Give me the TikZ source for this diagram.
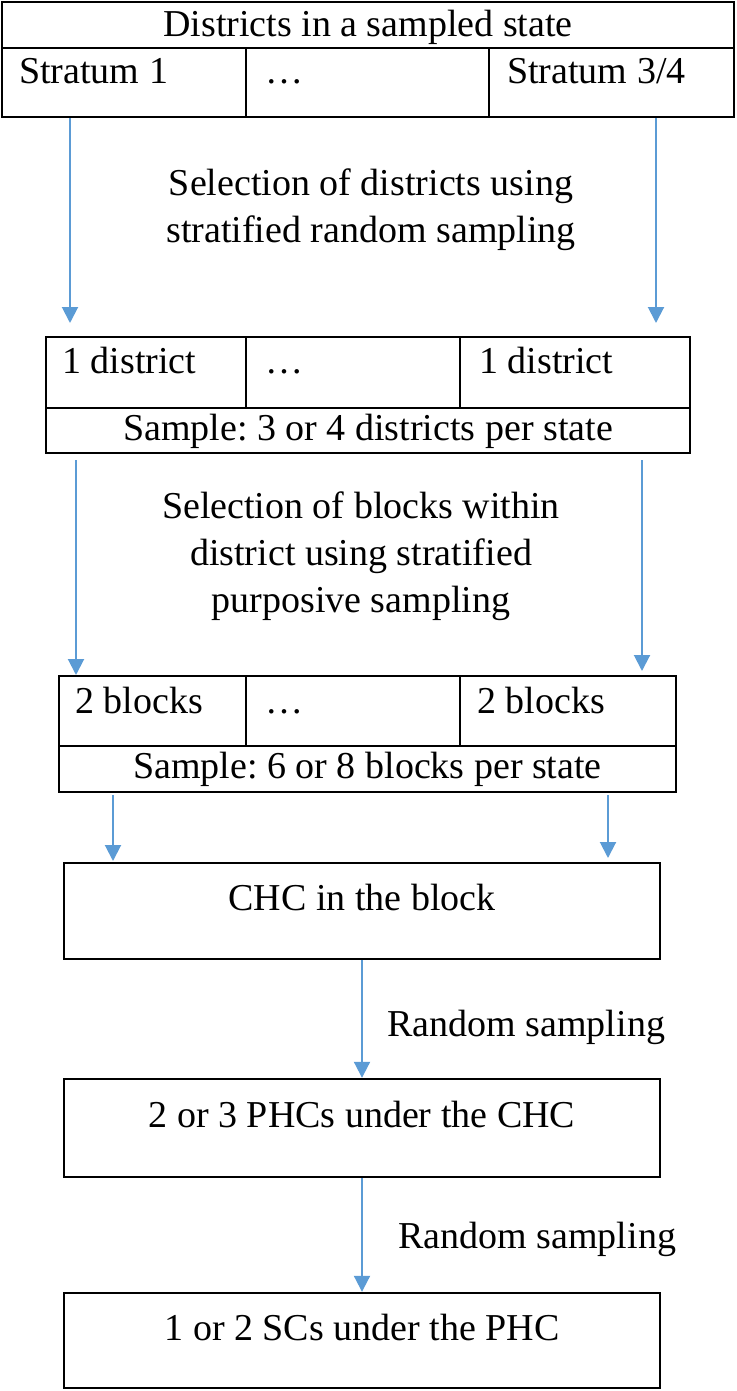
\documentclass[tikz,border=0pt]{standalone}
\usepackage{fontspec}
\setmainfont{Liberation Serif}
\frenchspacing
\usetikzlibrary{arrows.meta, fit}
\definecolor{flowblue}{RGB}{91,155,213}

\begin{document}
\begin{tikzpicture}[x = 0.5pt, y = -0.5pt,
    cell/.style = {draw, line width = 1.2pt, inner sep = 0pt},
    txt/.style = {inner sep = 0pt, font = \fontsize{19}{23.5}\selectfont},
    flow/.style = {draw = flowblue, line width = 1pt, -{Triangle[width = 8pt, length = 8pt]}}]
  \useasboundingbox (0,0) rectangle (736,1391);

  \node[cell, fit = {(2,2) (734,48)}] (hdr) {};
  \node[cell, fit = {(2,48) (246,117)}] (s1) {};
  \node[cell, fit = {(246,48) (489,117)}] (s2) {};
  \node[cell, fit = {(489,48) (734,117)}] (s3) {};
  \node[txt, anchor = base] (hdrt) at ([shift = {(0,36)}]hdr.north) {Districts in a sampled state};
  \node[txt, anchor = base west] (s1t) at ([shift = {(18,37)}]s1.north west) {Stratum 1};
  \node[txt, anchor = base west] (s2t) at ([shift = {(20,37)}]s2.north west) {…};
  \node[txt, anchor = base west] (s3t) at ([shift = {(19,37)}]s3.north west) {Stratum 3/4};

  \node[cell, fit = {(46,337) (246,408)}] (d1) {};
  \node[cell, fit = {(246,337) (460,408)}] (d2) {};
  \node[cell, fit = {(460,337) (690,408)}] (d3) {};
  \node[cell, fit = {(46,408) (690,453)}] (dsum) {};
  \node[txt, anchor = base west] (d1t) at ([shift = {(17,38)}]d1.north west) {1 district};
  \node[txt, anchor = base west] (d2t) at ([shift = {(20,38)}]d2.north west) {…};
  \node[txt, anchor = base west] (d3t) at ([shift = {(20,38)}]d3.north west) {1 district};
  \node[txt, anchor = base] (dsumt) at ([shift = {(0,34)}]dsum.north) {Sample: 3 or 4 districts per state};

  \node[cell, fit = {(59,676) (246,746)}] (b1) {};
  \node[cell, fit = {(246,676) (460,746)}] (b2) {};
  \node[cell, fit = {(460,676) (676,746)}] (b3) {};
  \node[cell, fit = {(59,746) (676,792)}] (bsum) {};
  \node[txt, anchor = base west] (b1t) at ([shift = {(17,39)}]b1.north west) {2 blocks};
  \node[txt, anchor = base west] (b2t) at ([shift = {(20,39)}]b2.north west) {…};
  \node[txt, anchor = base west] (b3t) at ([shift = {(18,39)}]b3.north west) {2 blocks};
  \node[txt, anchor = base] (bsumt) at ([shift = {(0,34)}]bsum.north) {Sample: 6 or 8 blocks per state};

  \node[cell, fit = {(64,863) (660,959)}] (chc) {};
  \node[cell, fit = {(64,1079) (660,1177)}] (phc) {};
  \node[cell, fit = {(64,1293) (660,1388)}] (sc) {};
  \node[txt, anchor = base] (chct) at ([shift = {(0,49)}]chc.north) {CHC in the block};
  \node[txt, anchor = base] (phct) at ([shift = {(0,50)}]phc.north) {2 or 3 PHCs under the CHC};
  \node[txt, anchor = base] (sct) at ([shift = {(0,49)}]sc.north) {1 or 2 SCs under the PHC};

  \node[txt, align = center] (sel1) at (371,210) {Selection of districts using\\stratified random sampling};
  \node[txt, align = center] (sel2) at (361,556) {Selection of blocks within\\district using stratified\\purposive sampling};
  \node[txt, anchor = base west] (rs1) at (387,1036) {Random sampling};
  \node[txt, anchor = base west] (rs2) at (398,1248) {Random sampling};

  \coordinate (t1) at (70,323);
  \coordinate (t2) at (656,323);
  \coordinate (t3) at (76,675);
  \coordinate (t4) at (642,671);
  \coordinate (t5) at (113,861);
  \coordinate (t6) at (608,858);
  \path[flow] (s1.south -| t1) -- (t1);
  \path[flow] (s3.south -| t2) -- (t2);
  \path[flow] ([yshift = -3pt]dsum.south -| t3) -- (t3);
  \path[flow] ([yshift = -3pt]dsum.south -| t4) -- (t4);
  \path[flow] ([yshift = -1pt]bsum.south -| t5) -- (t5);
  \path[flow] ([yshift = -1pt]bsum.south -| t6) -- (t6);
  \path[flow] (chc.south) -- (phc.north);
  \path[flow] (phc.south) -- (sc.north);
\end{tikzpicture}
\end{document}
